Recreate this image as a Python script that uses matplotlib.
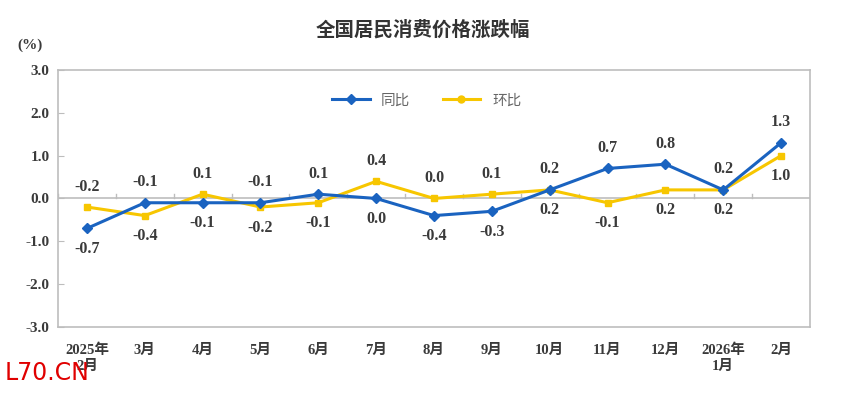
import matplotlib
matplotlib.use("Agg")
import matplotlib.pyplot as plt
from matplotlib.lines import Line2D

plt.rcParams['font.family'] = ['Liberation Serif', 'Noto Sans CJK SC', 'DejaVu Sans']

categories = ["2025年\n2月", "3月", "4月", "5月", "6月", "7月", "8月", "9月",
              "10月", "11月", "12月", "2026年\n1月", "2月"]
yoy = [-0.7, -0.1, -0.1, -0.1, 0.1, 0.0, -0.4, -0.3, 0.2, 0.7, 0.8, 0.2, 1.3]
mom = [-0.2, -0.4, 0.1, -0.2, -0.1, 0.4, 0.0, 0.1, 0.2, -0.1, 0.2, 0.2, 1.0]
yticks = [-3.0, -2.0, -1.0, 0.0, 1.0, 2.0, 3.0]

blue = "#1A63C0"
yellow = "#F7C600"
txt = "#3a3a3a"
grey = "#bdbdbd"

fig = plt.figure(figsize=(8.45, 3.93), dpi=100)
ax = fig.add_axes([0.0686, 0.168, 0.89, 0.654])
x = list(range(len(categories)))

ax.plot(x, mom, color=yellow, lw=2.2, marker='s', ms=5, zorder=3)
ax.plot(x, yoy, color=blue, lw=2.2, marker='D', ms=5, zorder=4)

ax.set_xlim(-0.5, len(categories) - 0.5)
ax.set_ylim(-3.0, 3.0)
ax.set_yticks(yticks)
ax.set_yticklabels([f"{v:.1f}" for v in yticks], fontsize=11, fontweight='bold', color=txt)
ax.set_xticks(x)
ax.set_xticklabels(categories, fontsize=10.5, fontweight='bold', color=txt, linespacing=1.3)
ax.tick_params(axis='x', length=0, pad=12)
ax.tick_params(axis='y', length=4, color=grey, direction='in', pad=6)
for s in ax.spines.values():
    s.set_color(grey)
    s.set_linewidth(1.2)

# zero line with category-boundary ticks
ax.axhline(0, color=grey, lw=1.2, zorder=1)
for b in range(len(categories) + 1):
    bx = b - 0.5
    ax.plot([bx, bx], [0, 0.1], color=grey, lw=1, zorder=1)

# data labels
for i in range(len(categories)):
    a, b = yoy[i], mom[i]
    if a >= b:
        hi, lo = a, b
    else:
        hi, lo = b, a
    ax.annotate(f"{hi:.1f}", (i, hi), xytext=(0, 9), textcoords='offset points',
                ha='center', va='bottom', fontsize=11.5, fontweight='bold', color=txt)
    ax.annotate(f"{lo:.1f}", (i, lo), xytext=(0, -9), textcoords='offset points',
                ha='center', va='top', fontsize=11.5, fontweight='bold', color=txt)

handles = [Line2D([], [], color=blue, lw=2.2, marker='D', ms=5),
           Line2D([], [], color=yellow, lw=2.2, marker='o', ms=5)]
leg = ax.legend(handles, ["同比", "环比"], loc='upper center', bbox_to_anchor=(0.49, 0.96),
                ncol=2, frameon=False, handlelength=2.6, columnspacing=2.2,
                prop={'family': ['Noto Sans CJK SC'], 'size': 10.5})
for t in leg.get_texts():
    t.set_color("#666666")

fig.text(0.50, 0.925, "全国居民消费价格涨跌幅", ha='center', va='center', fontsize=14,
         fontweight='bold', color="#333333", family=['Noto Sans CJK SC'])
fig.text(0.035, 0.885, "(%)", ha='center', va='center', fontsize=11, fontweight='bold', color=txt)
fig.text(0.005, 0.05, "L70.CN", ha='left', va='center', fontsize=17, color="#e00000",
         family=['DejaVu Sans'])

fig.savefig("out.png", dpi=100)
